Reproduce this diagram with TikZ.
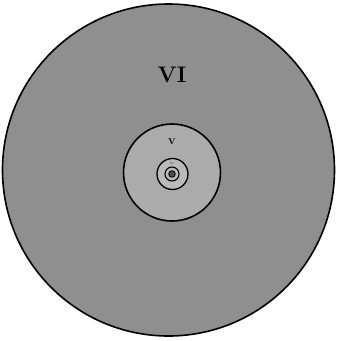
\documentclass[tikz,border=0pt]{standalone}
\begin{document}
\begin{tikzpicture}[x=1pt,y=-1pt,every node/.style={font=\bfseries},
  ring/.style={draw=black,line width=1.6pt}]
  \useasboundingbox (0,0) rectangle (337,341);
  % outer zone
  \draw[ring,fill=black!44] (168.5,170) circle (166);
  \node[font=\fontsize{22.5}{22}\selectfont\bfseries] (six) at (172,74.5) {VI};
  % zone V
  \draw[ring,fill=black!33] (172,172.5) circle (48.5);
  \node[font=\fontsize{8.5}{8}\selectfont\bfseries] (five) at (172,142) {V};
  % inner zones
  \draw[ring,line width=1.3pt,fill=black!27] (172.5,174) circle (15.5);
  \node[font=\fontsize{2.5}{3}\selectfont] (four) at (172,163.5) {IV};
  \draw[ring,line width=1.1pt,fill=black!27] (172,174) circle (7);
  \draw[black,fill=black!70,line width=0.8pt] (172,174) circle (3.3);
\end{tikzpicture}
\end{document}
